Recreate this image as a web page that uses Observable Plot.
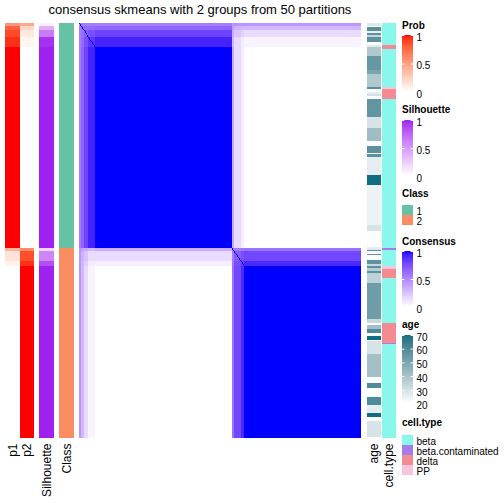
<!DOCTYPE html>
<html><head><meta charset="utf-8">
<script src="https://cdn.jsdelivr.net/npm/d3@7"></script>
<script src="https://cdn.jsdelivr.net/npm/@observablehq/plot@0.6"></script>
<style>
body{margin:0;background:#fff;}
#chart{position:relative;width:504px;height:504px;overflow:hidden;font-family:"Liberation Sans",Arial,sans-serif;color:#000;}
#chart > *{position:absolute;}
.title{font-size:13px;line-height:13px;white-space:nowrap;text-align:center;}
.lt{font-size:10px;line-height:10px;font-weight:bold;white-space:nowrap;}
</style></head><body><div id="chart"></div>
<script>
// ---------------- data ----------------
const titleText = "consensus skmeans with 2 groups from 50 partitions";
// row/column segments of the consensus ordering (sample counts)
const segCount = [2, 3, 5, 7, 146, 2, 7, 4, 124];
const segClass = [1, 1, 1, 1, 1, 2, 2, 2, 2];
const segP1    = [0.55, 0.78, 0.87, 0.94, 1.00, 0.40, 0.15, 0.07, 0.00];
const segP2    = [0.45, 0.22, 0.12, 0.05, 0.00, 0.60, 0.85, 0.93, 1.00];
const segSil   = [0.08, 0.40, 0.65, 0.95, 1.00, 0.20, 0.60, 0.85, 1.00];
// consensus between segments (rows x columns)
const consensusBlocks = [
  [0.50,0.55,0.55,0.55,0.55,0.45,0.45,0.45,0.45],
  [0.55,0.60,0.62,0.64,0.66,0.40,0.33,0.31,0.30],
  [0.55,0.62,0.70,0.75,0.80,0.35,0.25,0.20,0.15],
  [0.55,0.64,0.75,0.85,0.92,0.30,0.15,0.08,0.05],
  [0.55,0.66,0.80,0.92,1.00,0.35,0.15,0.07,0.00],
  [0.45,0.40,0.35,0.30,0.35,0.55,0.55,0.58,0.60],
  [0.45,0.33,0.25,0.15,0.15,0.55,0.70,0.75,0.78],
  [0.45,0.31,0.20,0.08,0.07,0.58,0.75,0.85,0.90],
  [0.45,0.30,0.15,0.05,0.00,0.60,0.78,0.90,1.00]
];
const selfConsensus = 1;
// age runs [count, age] in the same sample order
const ageRuns = [
  [2,28],[1,21],[3,58],[1,24],[2,57],[1,33],[4,57],[2,21],[1,27],[7,38],
  [10,55],[3,50],[9,38],[2,58],[2,21],[1,26],[2,30],[2,21],[13,56],[8,29],
  [9,42],[4,21],[5,57],[1,21],[2,57],[13,26],[7,70],[29,24],[4,29],[12,21],[1,26],
  [1,27],[1,57],[2,21],[1,56],[3,21],[3,57],[2,33],[1,57],[2,37],[2,57],
  [7,35],[26,53],[3,33],[1,21],[3,41],[3,60],[2,21],[3,70],[1,21],[9,29],
  [17,41],[4,21],[4,60],[6,21],[6,60],[6,26],[3,70],[3,21],[11,29],[1,21]
];
// cell type runs [count, type]
const cellTypeRuns = [
  [16,"beta"],[3,"delta"],[27,"beta"],[2,"PP"],[7,"delta"],[108,"beta"],
  [1,"beta.contaminated"],[12,"beta"],[2,"PP"],[6,"delta"],[33,"beta"],[14,"delta"],
  [1,"beta.contaminated"],[68,"beta"]
];
const classLevels = ["1", "2"];
const classColors = ["#66C2A5", "#FC8D62"];
const cellTypes = ["beta", "beta.contaminated", "delta", "PP"];
const cellTypeColors = ["#88F8EC", "#A77BEA", "#F48B90", "#F7C6DE"];
const probTicks = [0, 0.5, 1];
const ageTicks = [20, 30, 40, 50, 60, 70];

// ---------------- helpers ----------------
const chart = document.getElementById("chart");
const FONT = "Liberation Sans, Arial, sans-serif";
function place(node, left, top) { node.style.left = left + "px"; node.style.top = top + "px"; chart.appendChild(node); return node; }
function div(cls, text, left, top, extra) {
  const d = document.createElement("div"); d.className = cls; d.textContent = text;
  if (extra) Object.assign(d.style, extra);
  return place(d, left, top);
}
const lab = d3.interpolateLab;
const probColor  = {type: "linear", domain: [0, 1], range: ["#FFFFFF", "#FF0000"], interpolate: lab};
const silColor   = {type: "linear", domain: [0, 1], range: ["#FFFFFF", "#A020F0"], interpolate: lab};
const consColor  = {type: "linear", domain: [0, 1], range: ["#FFFFFF", "#0000FF"], interpolate: lab};
const ageColor   = {type: "linear", domain: [20, 70], range: ["#FFFFFF", "#0F6E7F"], interpolate: lab};
const classColor = {type: "ordinal", domain: classLevels, range: classColors};
const cellColor  = {type: "ordinal", domain: cellTypes, range: cellTypeColors};

let acc = 0;
const segments = segCount.map((n, k) => {
  const s = {start: acc, end: acc + n, p1: segP1[k], p2: segP2[k], sil: segSil[k], cls: String(segClass[k])};
  acc += n; return s;
});
const N = acc;
function runs(list) { let a = 0; return list.map(([n, v]) => { const r = {start: a, end: a + n, v}; a += n; return r; }); }
const ageSeg = runs(ageRuns);
const cellSeg = runs(cellTypeRuns);

const BODY_TOP = 23, BODY_H = 415, LABEL_H = 66;

function annoColumn(name, width, data, field, color) {
  return Plot.plot({
    width, height: BODY_H + LABEL_H,
    marginTop: 0, marginLeft: 0, marginRight: 0, marginBottom: LABEL_H,
    style: {overflow: "visible", background: "transparent", fontFamily: FONT},
    x: {domain: [0, 1], axis: null},
    y: {domain: [0, N], range: [0, BODY_H], axis: null},
    color,
    marks: [
      Plot.rect(data, {x1: 0, x2: 1, y1: "start", y2: "end", fill: field, shapeRendering: "crispEdges"}),
      Plot.text([name], {x: 0.5, y: N, text: d => d, rotate: -90, textAnchor: "end", dy: 5, fontSize: 12, fill: "black"})
    ]
  });
}

// ---------------- title ----------------
div("title", titleText, 0, 3, {width: "400px"});

// ---------------- annotation columns ----------------
place(annoColumn("p1", 15, segments, "p1", probColor), 5, BODY_TOP);
place(annoColumn("p2", 14, segments, "p2", probColor), 20, BODY_TOP);
place(annoColumn("Silhouette", 15, segments, "sil", silColor), 39, BODY_TOP);
place(annoColumn("Class", 15, segments, "cls", classColor), 59, BODY_TOP);

// ---------------- consensus heatmap ----------------
const blockCells = [];
segments.forEach((r, a) => segments.forEach((c, b) =>
  blockCells.push({x1: c.start, x2: c.end, y1: r.start, y2: r.end, v: consensusBlocks[a][b]})));
const diagCells = segments.flatMap(s => d3.range(s.start, s.end)).map(i => ({i, v: selfConsensus}));
place(Plot.plot({
  width: 282, height: BODY_H, margin: 0,
  style: {overflow: "visible", background: "transparent"},
  x: {domain: [0, N], range: [0, 282], axis: null},
  y: {domain: [0, N], range: [0, BODY_H], axis: null},
  color: consColor,
  marks: [
    Plot.rect(blockCells, {x1: "x1", x2: "x2", y1: "y1", y2: "y2", fill: "v", shapeRendering: "crispEdges"}),
    Plot.rect(diagCells, {x1: d => d.i, x2: d => d.i + 1, y1: d => d.i, y2: d => d.i + 1, fill: "v", shapeRendering: "crispEdges"})
  ]
}), 79, BODY_TOP);

place(annoColumn("age", 14, ageSeg, "v", ageColor), 367, BODY_TOP);
place(annoColumn("cell.type", 14, cellSeg, "v", cellColor), 382, BODY_TOP);

// ---------------- legends ----------------
function rampLegend(domain, ticks, color, barH) {
  const [d0, d1] = domain;
  const steps = d3.range(100).map(i => ({lo: d0 + (d1 - d0) * i / 100, hi: d0 + (d1 - d0) * (i + 1) / 100}));
  return Plot.plot({
    width: 60, height: barH + 10, marginTop: 5, marginBottom: 5, marginLeft: 0, marginRight: 49,
    style: {overflow: "visible", background: "transparent", fontFamily: FONT},
    x: {domain: [0, 1], axis: null},
    y: {domain, axis: null},
    color,
    marks: [
      Plot.rect(steps, {x1: 0, x2: 1, y1: "lo", y2: "hi", fill: d => (d.lo + d.hi) / 2, shapeRendering: "crispEdges"}),
      Plot.ruleY(ticks, {x1: 0, x2: 0.22, stroke: "white"}),
      Plot.ruleY(ticks, {x1: 0.78, x2: 1, stroke: "white"}),
      Plot.axisY(ticks, {anchor: "right", tickSize: 0, tickPadding: 3, dy: 2, fontSize: 10, label: null, tickFormat: d => String(d)})
    ]
  });
}
function swatchLegend(levels, color, boxH) {
  return Plot.plot({
    width: 120, height: levels.length * boxH, margin: 0, marginRight: 109,
    style: {overflow: "visible", background: "transparent", fontFamily: FONT},
    x: {domain: [0, 1], axis: null},
    y: {type: "band", domain: levels, padding: 0, axis: null},
    color,
    marks: [
      Plot.barX(levels, {y: d => d, x1: 0, x2: 1, fill: d => d}),
      Plot.axisY({anchor: "right", tickSize: 0, tickPadding: 3, dy: 1, fontSize: 10, label: null})
    ]
  });
}

div("lt", "Prob", 402, 21);
place(rampLegend([0, 1], probTicks, probColor, 57), 402, 35 - 5);
div("lt", "Silhouette", 402, 105);
place(rampLegend([0, 1], probTicks, silColor, 56), 402, 120 - 5);
div("lt", "Class", 402, 189);
place(swatchLegend(classLevels, classColor, 10.8), 402, 204);
div("lt", "Consensus", 402, 237);
place(rampLegend([0, 1], probTicks, consColor, 56), 402, 251 - 5);
div("lt", "age", 402, 320);
place(rampLegend([20, 70], ageTicks, ageColor, 68.5), 402, 334.7 - 5);
div("lt", "cell.type", 402, 418);
place(swatchLegend(cellTypes, cellColor, 10.8), 402, 433);
</script></body></html>
